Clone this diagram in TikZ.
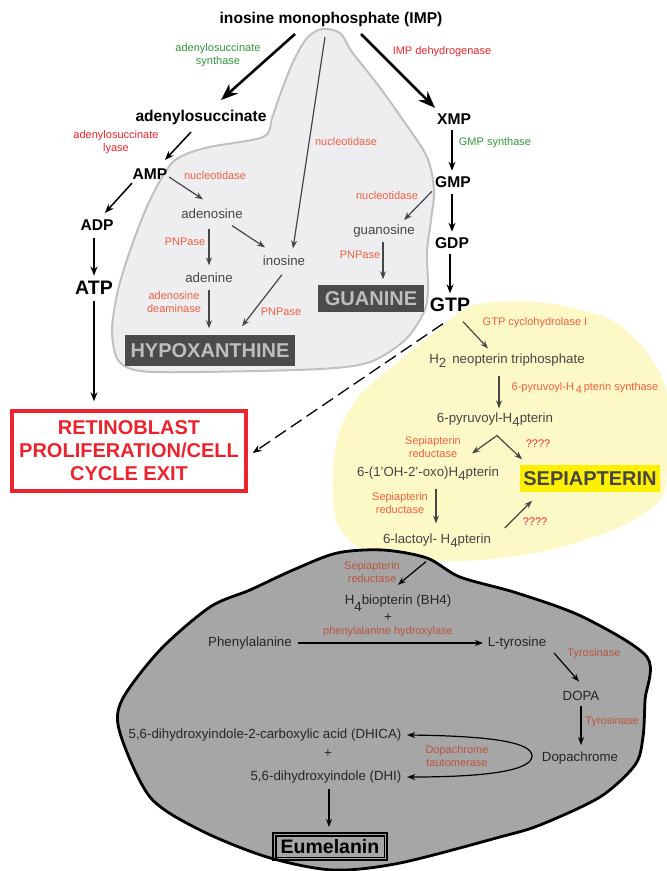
\documentclass[tikz,border=0pt]{standalone}
\usepackage{fontspec}
\setmainfont{Liberation Sans}
\usepackage{tikz}
\usetikzlibrary{shapes,arrows,arrows.meta}

\definecolor{enzgreen}{RGB}{50,150,60}
\definecolor{enzred}{RGB}{235,35,45}
\definecolor{enzorange}{RGB}{240,95,65}
\definecolor{enzbrown}{RGB}{185,85,65}
\definecolor{metgray}{RGB}{70,70,70}
\definecolor{blobgray}{RGB}{238,238,241}
\definecolor{blobline}{RGB}{192,192,192}
\definecolor{blobyellow}{RGB}{253,249,199}
\definecolor{blobdark}{RGB}{166,166,166}
\definecolor{sepiayellow}{RGB}{255,240,0}
\definecolor{boxdark}{RGB}{75,75,75}
\definecolor{boxtext}{RGB}{190,190,190}

\newcommand{\lowsub}[1]{\raisebox{-0.3em}{#1}}

\begin{document}
\begin{tikzpicture}[x=1pt,y=-1pt,->,>={Stealth[length=9pt,width=7pt]},line width=1.5pt,inner sep=1pt]
\tikzstyle{met}=[font=\fontsize{15.6}{18}\selectfont\bfseries]
\tikzstyle{bigmet}=[font=\fontsize{19.5}{22}\selectfont\bfseries]
\tikzstyle{inter}=[font=\fontsize{13.3}{15}\selectfont,text=metgray]
\tikzstyle{melan}=[font=\fontsize{13.3}{15}\selectfont,text=black!85]
\tikzstyle{enz}=[font=\fontsize{11}{13}\selectfont,align=center,text=enzorange]
\tikzstyle{endbox}=[font=\fontsize{20}{23}\selectfont\bfseries,inner sep=0pt]
\tikzstyle{bigarrow}=[line width=2.6pt,-{Stealth[length=17pt,width=13pt]}]
\tikzstyle{grayarrow}=[line width=1.2pt,draw=metgray,-{Stealth[length=8pt,width=6pt]}]
\tikzstyle{thinarrow}=[line width=1.2pt,-{Stealth[length=8pt,width=6pt]}]
\useasboundingbox (0,0) rectangle (667,871);

% compartments
\fill[blobyellow] plot[smooth cycle] coordinates {(470,306) (520,301) (570,307) (617,323) (650,357) (667,395) (667,470) (660,500) (620,527) (550,550) (480,560) (420,560) (360,548) (336,520) (333,470) (340,430) (360,395) (400,360) (440,328)};
\filldraw[-,fill=blobgray,draw=blobline,line width=2pt] plot[smooth cycle] coordinates {(322,29) (340,33) (352,52) (378,85) (403,120) (427,157) (434,190) (431,220) (427,252) (428,290) (424,312) (405,340) (370,362) (320,369) (200,372) (140,371) (118,360) (112,330) (118,290) (132,245) (150,200) (173,162) (205,148) (263,137) (272,118) (280,95) (293,62) (307,38)};
\filldraw[-,fill=blobdark,draw=black,line width=2.8pt] plot[smooth cycle] coordinates {(337,553) (383,550) (427,558) (460,577) (517,593) (583,617) (647,657) (645,700) (643,737) (635,765) (600,797) (540,825) (500,837) (400,863) (333,870) (267,857) (200,830) (150,797) (120,733) (122,700) (160,650) (210,607) (250,590) (293,570)};

% purine metabolites
\node[met] (imp) at (331,19) {inosine monophosphate (IMP)};
\node[met] (adsucc) at (201,117) {adenylosuccinate};
\node[met] (amp) at (150,174) {AMP};
\node[met] (adp) at (97,225) {ADP};
\node[bigmet] (atp) at (94,288) {ATP};
\node[met] (xmp) at (454,119) {XMP};
\node[met] (gmp) at (453,182) {GMP};
\node[met] (gdp) at (452,243) {GDP};
\node[bigmet] (gtp) at (450,305) {GTP};
\node[inter] (adenosine) at (212,214) {adenosine};
\node[inter] (adenine) at (209,278) {adenine};
\node[inter] (inosine) at (284,261) {inosine};
\node[inter] (guanosine) at (384,231) {guanosine};
\node[endbox,fill=boxdark,text=boxtext,minimum width=170,minimum height=31] (hypox) at (210,350.5) {HYPOXANTHINE};
\node[endbox,fill=boxdark,text=boxtext,minimum width=106,minimum height=27] (guanine) at (371,298.5) {GUANINE};
\node[endbox,draw=enzred,line width=3.5pt,text=enzred,align=center,minimum width=234,minimum height=80] (retino) at (129,451) {RETINOBLAST\\PROLIFERATION/CELL\\CYCLE EXIT};

% pterin metabolites
\node[inter] (neop) at (507,361) {H\lowsub{2}\hspace{6pt}neopterin triphosphate};
\node[inter] (pyr) at (495,420) {6-pyruvoyl-H\lowsub{4}pterin};
\node[inter] (oxo) at (428,474) {6-(1'OH-2'-oxo)H\lowsub{4}pterin};
\node[endbox,fill=sepiayellow,text=metgray,minimum width=140,minimum height=27] (sepia) at (590,478.5) {SEPIAPTERIN};
\node[inter] (lact) at (437,541) {6-lactoyl- H\lowsub{4}pterin};

% melanin metabolites
\node[melan] (bh4) at (398,603) {H\raisebox{-0.55em}{4}biopterin (BH4)};
\node[melan] (plusa) at (388,618) {+};
\node[melan] (phe) at (250,643) {Phenylalanine};
\node[melan] (tyr) at (517,643) {L-tyrosine};
\node[melan] (dopa) at (581,696) {DOPA};
\node[melan] (dopachr) at (580,758) {Dopachrome};
\node[melan] (dhica) at (265,735) {5,6-dihydroxyindole-2-carboxylic acid (DHICA)};
\node[melan] (plusb) at (328,754) {+};
\node[melan] (dhi) at (326,777) {5,6-dihydroxyindole (DHI)};
\node[font=\fontsize{19.5}{22}\selectfont\bfseries,draw=black,line width=2pt,minimum width=114,minimum height=27,inner sep=0pt] (eumel) at (330,846.5) {Eumelanin};
\draw[-,line width=1.5pt] ([xshift=3.75pt,yshift=-3.75pt]eumel.north west) rectangle ([xshift=-3.75pt,yshift=3.75pt]eumel.south east);

% enzymes
\node[enz,text=enzgreen] (synth) at (218,55) {adenylosuccinate\\synthase};
\node[enz,text=enzred] (impdh) at (442,52) {IMP dehydrogenase};
\node[enz,text=enzred] (lyase) at (116,142) {adenylosuccinate\\lyase};
\node[enz] (nucA) at (215,176) {nucleotidase};
\node[enz] (nucB) at (346,142) {nucleotidase};
\node[enz,text=enzgreen] (gmps) at (495,143) {GMP synthase};
\node[enz] (nucC) at (387,196) {nucleotidase};
\node[enz] (pnpA) at (185,242) {PNPase};
\node[enz] (ada) at (174,302) {adenosine\\deaminase};
\node[enz] (pnpB) at (281,312) {PNPase};
\node[enz] (pnpC) at (360,255) {PNPase};
\node[enz] (gch) at (535,323) {GTP cyclohydrolase I};
\node[enz] (ptps) at (585,388) {6-pyruvoyl-H\,\lowsub{4}\,pterin synthase};
\node[enz] (srA) at (433,447) {Sepiapterin\\reductase};
\node[enz,text=enzred] (unkA) at (538,444) {????};
\node[enz] (srB) at (400,503) {Sepiapterin\\reductase};
\node[enz,text=enzred] (unkB) at (535,522) {????};
\node[enz,text=enzbrown] (srC) at (372,572) {Sepiapterin\\reductase};
\node[enz,text=enzbrown] (pah) at (388,632) {phenylalanine hydroxylase};
\node[enz,text=enzbrown] (tyrA) at (594,654) {Tyrosinase};
\node[enz,text=enzbrown] (tyrB) at (612,722) {Tyrosinase};
\node[enz,text=enzbrown] (dct) at (457,756) {Dopachrome\\tautomerase};

% purine arrows
\draw[bigarrow] ([xshift=-36pt,yshift=-6pt]imp.south) -- ([xshift=20pt,yshift=8pt]adsucc.north);
\draw[bigarrow] ([xshift=30pt,yshift=-6pt]imp.south) -- ([xshift=-19pt,yshift=4pt]xmp.north);
\draw[grayarrow] ([xshift=-6pt,yshift=-9pt]imp.south) -- ([xshift=9pt,yshift=6pt]inosine.north);
\draw ([xshift=-10pt,yshift=-6pt]adsucc.south) -- ([xshift=15pt,yshift=7pt]amp.north);
\draw ([xshift=-18pt,yshift=-2pt]amp.south) -- ([xshift=8pt,yshift=5pt]adp.north);
\draw[grayarrow] ([yshift=-3pt]amp.east) -- ([xshift=-9pt,yshift=8pt]adenosine.north);
\draw ([xshift=-3pt,yshift=-6pt]adp.south) -- ([yshift=4pt]atp.north);
\draw ([yshift=-5pt]atp.south) -- ([xshift=-35pt,yshift=8pt]retino.north);
\draw[grayarrow] ([xshift=-3pt,yshift=-8pt]adenosine.south) -- ([yshift=6pt]adenine.north);
\draw[grayarrow] ([xshift=20pt,yshift=-5pt]adenosine.south) -- ([xshift=-19pt,yshift=7pt]inosine.north);
\draw[grayarrow] ([yshift=-5pt]adenine.south) -- ([xshift=-1pt,yshift=6pt]hypox.north);
\draw[grayarrow] ([xshift=-2pt,yshift=-7pt]inosine.south) -- ([xshift=32pt,yshift=8pt]hypox.north);
\draw ([xshift=-2pt,yshift=-4pt]xmp.south) -- ([xshift=-1pt,yshift=4pt]gmp.north);
\draw[grayarrow] ([xshift=-21pt,yshift=-2pt]gmp.south) -- ([xshift=20pt,yshift=3pt]guanosine.north);
\draw[grayarrow] ([xshift=-1pt,yshift=-3pt]guanosine.south) -- ([xshift=12pt,yshift=5pt]guanine.north);
\draw ([xshift=-1pt,yshift=-5pt]gmp.south) -- ([xshift=0pt,yshift=4pt]gdp.north);
\draw ([xshift=-2pt,yshift=-4pt]gdp.south) -- ([yshift=3pt]gtp.north);
\draw[dash pattern=on 13pt off 6pt,line width=1.3pt] ([xshift=-7pt,yshift=-10pt]gtp.south) -- ([xshift=5pt,yshift=-2pt]retino.east);

% pterin arrows
\draw[grayarrow] ([xshift=13pt,yshift=-8pt]gtp.south) -- ([xshift=-19pt,yshift=4pt]neop.north);
\draw[grayarrow] ([xshift=-8pt,yshift=-6pt]neop.south) -- ([xshift=4pt,yshift=3pt]pyr.north);
\draw[grayarrow] ([xshift=2pt,yshift=-7pt]pyr.south) -- ([xshift=44pt,yshift=12pt]oxo.north);
\draw[grayarrow] ([xshift=2pt,yshift=-7pt]pyr.south) -- ([xshift=-68pt,yshift=5pt]sepia.north);
\draw[grayarrow] ([xshift=8pt,yshift=-6pt]oxo.south) -- ([xshift=-1pt,yshift=9pt]lact.north);
\draw[grayarrow] ([xshift=12pt,yshift=13pt]lact.east) -- ([xshift=-58pt,yshift=-8pt]sepia.south);

% melanin arrows
\draw[thinarrow] ([xshift=-11pt,yshift=-12pt]lact.south) -- ([yshift=8pt]bh4.north);
\draw[thinarrow] ([xshift=4pt]phe.east) -- ([xshift=-3pt]tyr.west);
\draw[thinarrow] ([xshift=37pt,yshift=-2pt]tyr.south) -- ([xshift=-2pt,yshift=8pt]dopa.north);
\draw[thinarrow] ([yshift=-4pt]dopa.south) -- ([xshift=1pt,yshift=5pt]dopachr.north);
\coordinate (taut) at (532,756);
\draw[thinarrow,{Stealth[length=8pt,width=6pt]}-{Stealth[length=8pt,width=6pt]}] ([xshift=4pt]dhica.east) .. controls (490,736) and (532,742) .. (taut) .. controls (532,770) and (490,777) .. ([xshift=4pt]dhi.east);
\draw[thinarrow] ([xshift=3pt,yshift=-4pt]dhi.south) -- ([xshift=-1pt,yshift=5pt]eumel.north);
\end{tikzpicture}
\end{document}
